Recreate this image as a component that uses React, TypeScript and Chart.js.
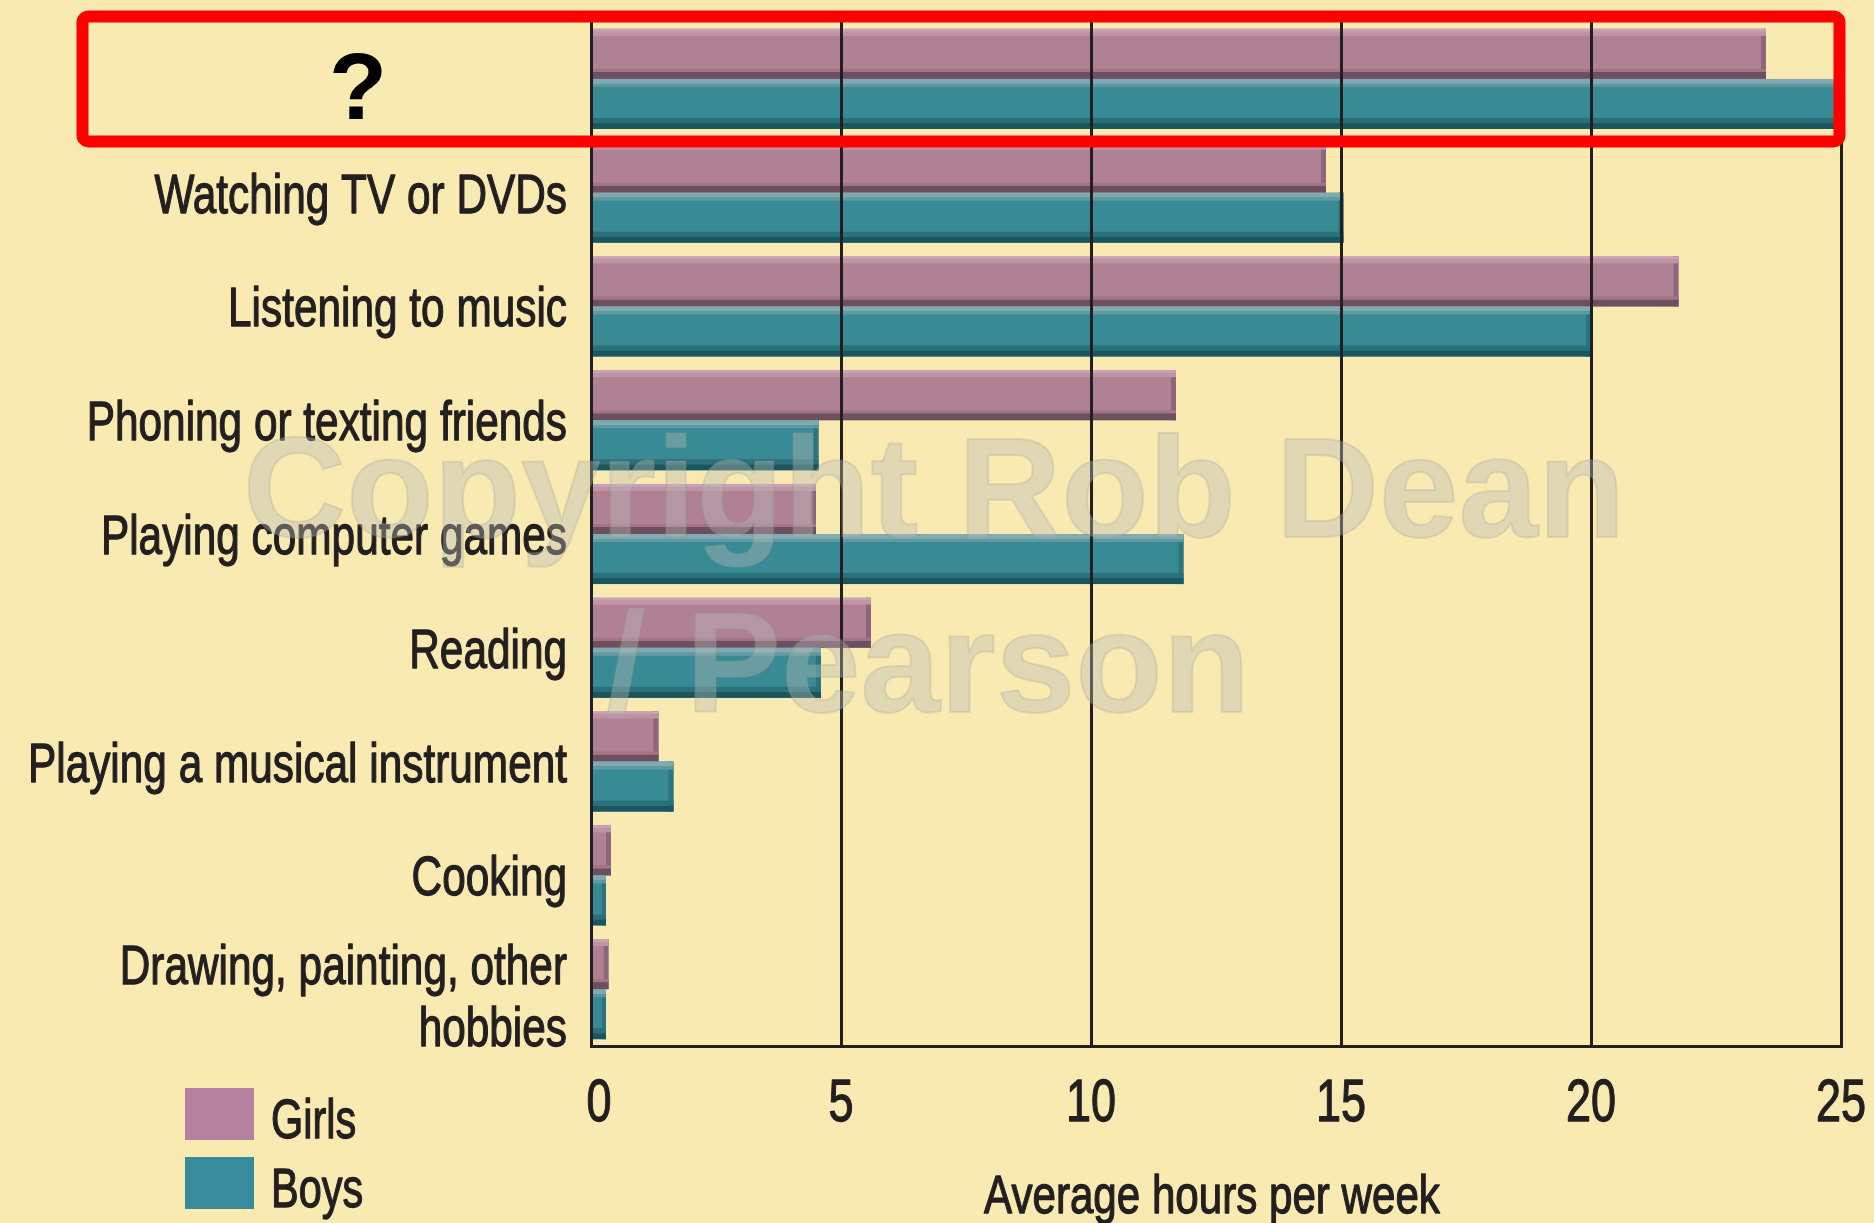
import React, { useEffect, useRef } from 'react';
import { Chart, registerables } from 'chart.js';

Chart.register(...registerables);

// ---- data ----
const categories: (string | string[])[] = [
  '?',
  'Watching TV or DVDs',
  'Listening to music',
  'Phoning or texting friends',
  'Playing computer games',
  'Reading',
  'Playing a musical instrument',
  'Cooking',
  ['Drawing, painting, other', 'hobbies'],
];
const girlsHours = [23.5, 14.7, 21.75, 11.7, 4.5, 5.6, 1.35, 0.4, 0.35];
const boysHours = [25, 15.05, 20, 4.55, 11.85, 4.6, 1.65, 0.3, 0.3];
const seriesNames = ['Girls', 'Boys'];
const xTickValues = [0, 5, 10, 15, 20, 25];
const xAxisTitle = 'Average hours per week';
const watermarkLines = ['Copyright Rob Dean', '/ Pearson'];

// ---- styles ----
const BG = '#f9eab1';
const INK = '#231f20';
const SANS = '"Liberation Sans", Arial, sans-serif';
const seriesColors = ['#b08093', '#388a94'];
const legendColors = ['#b4819e', '#388b9b'];
const shading = [
  { top: [['#c9a3b3', 3], ['#bf94a6', 4]], bottom: [['#a27488', 3], ['#6d4f60', 7]], right: '#8d667a' },
  { top: [['#80aab0', 5], ['#5f9aa2', 3]], bottom: [['#2a7078', 5], ['#195660', 6]], right: '#2a757e' },
];

// condensed text: Liberation Sans squeezed horizontally, slightly emboldened
function narrowText(ctx: CanvasRenderingContext2D, text: string, x: number, y: number, size: number, sx: number, align: CanvasTextAlign) {
  ctx.save();
  ctx.font = `${size}px ${SANS}`;
  ctx.textBaseline = 'alphabetic';
  ctx.textAlign = align;
  ctx.translate(x, y);
  ctx.scale(sx, 1);
  ctx.fillStyle = INK;
  ctx.strokeStyle = INK;
  ctx.lineWidth = 1.3;
  ctx.lineJoin = 'round';
  ctx.fillText(text, 0, 0);
  ctx.strokeText(text, 0, 0);
  ctx.restore();
}

const barShadePlugin = {
  id: 'barShade',
  afterDatasetsDraw(chart: any) {
    const ctx = chart.ctx;
    const area = chart.chartArea;
    ctx.save();
    ctx.beginPath();
    ctx.rect(area.left, area.top, area.right - area.left, area.bottom - area.top);
    ctx.clip();
    chart.data.datasets.forEach((_: any, di: number) => {
      const meta = chart.getDatasetMeta(di);
      const s = shading[di];
      meta.data.forEach((el: any) => {
        const p = el.getProps(['x', 'y', 'base', 'height'], true);
        const left = Math.min(p.x, p.base);
        const right = Math.max(p.x, p.base);
        const top = p.y - p.height / 2;
        const bottom = p.y + p.height / 2;
        const w = right - left;
        const rw = Math.min(5, w * 0.3);
        ctx.fillStyle = s.right;
        ctx.fillRect(right - rw, top, rw, bottom - top);
        let y = top;
        (s.top as any[]).forEach(([c, h]) => {
          ctx.fillStyle = c;
          ctx.fillRect(left, y, w, h);
          y += h;
        });
        let yb = bottom;
        (s.bottom as any[]).slice().reverse().forEach(([c, h]) => {
          yb -= h;
          ctx.fillStyle = c;
          ctx.fillRect(left, yb, w, h);
        });
      });
    });
    ctx.restore();
  },
};

const decorPlugin = {
  id: 'decor',
  beforeDraw(chart: any) {
    const ctx = chart.ctx;
    ctx.save();
    ctx.fillStyle = BG;
    ctx.fillRect(0, 0, chart.width, chart.height);
    ctx.restore();
  },
  afterDraw(chart: any) {
    const ctx: CanvasRenderingContext2D = chart.ctx;
    const yScale = chart.scales.y;
    const xScale = chart.scales.x;
    ctx.save();

    // category labels
    categories.forEach((cat, i) => {
      if (i === 0) return;
      const lines = Array.isArray(cat) ? cat : [cat];
      const cy = yScale.getPixelForValue(i);
      const lh = 62;
      lines.forEach((ln, j) => {
        const by = cy + (j - (lines.length - 1) / 2) * lh + 20 + (lines.length > 1 ? 6 : 0);
        narrowText(ctx, ln, 567, by, 55, 0.77, 'right');
      });
    });

    // x tick labels
    xTickValues.forEach((v) => {
      narrowText(ctx, String(v), xScale.getPixelForValue(v) + (v === 0 ? 8 : 0), 1121, 60, 0.75, 'center');
    });
    // x title
    narrowText(ctx, xAxisTitle, (xScale.left + xScale.right) / 2 - 4, 1213, 54, 0.78, 'center');

    // red highlight box around the first category
    const c0 = yScale.getPixelForValue(0);
    ctx.strokeStyle = '#ff0000';
    ctx.lineWidth = 12;
    ctx.lineJoin = 'round';
    ctx.beginPath();
    (ctx as any).roundRect(82.5, c0 - 62.5, xScale.right - 1.5 - 82.5, 125, 6);
    ctx.stroke();
    // "?" label
    ctx.fillStyle = '#000';
    ctx.font = `bold 95px ${SANS}`;
    ctx.textAlign = 'center';
    ctx.textBaseline = 'alphabetic';
    ctx.fillText(String(categories[0]), 358, c0 + 40);

    // legend
    seriesNames.forEach((name, i) => {
      const top = 1088 + i * 69;
      ctx.fillStyle = legendColors[i];
      ctx.fillRect(185, top, 69, 52);
      narrowText(ctx, name, 271, top + 50, 56, 0.74, 'left');
    });

    // watermark
    ctx.font = `bold 143px ${SANS}`;
    ctx.fillStyle = 'rgba(185,188,186,0.39)';
    ctx.strokeStyle = 'rgba(150,150,140,0.22)';
    ctx.lineWidth = 2;
    ctx.textAlign = 'left';
    ctx.fillText(watermarkLines[0], 243, 537);
    ctx.strokeText(watermarkLines[0], 243, 537);
    ctx.textAlign = 'right';
    ctx.fillText(watermarkLines[1], 1250, 712);
    ctx.strokeText(watermarkLines[1], 1250, 712);
    ctx.restore();
  },
};

export default function App() {
  const ref = useRef<HTMLCanvasElement | null>(null);
  useEffect(() => {
    if (!ref.current) return;
    const chart = new Chart(ref.current, {
      type: 'bar',
      data: {
        labels: categories as any,
        datasets: [
          { label: seriesNames[0], data: girlsHours, backgroundColor: seriesColors[0], borderWidth: 0 },
          { label: seriesNames[1], data: boysHours, backgroundColor: seriesColors[1], borderWidth: 0 },
        ],
      },
      options: {
        indexAxis: 'y',
        responsive: true,
        maintainAspectRatio: false,
        animation: false,
        layout: { padding: { top: 22, right: 33, left: 0, bottom: 0 } },
        datasets: { bar: { categoryPercentage: 0.88, barPercentage: 1 } },
        plugins: { legend: { display: false }, tooltip: { enabled: false } },
        scales: {
          x: {
            type: 'linear',
            position: 'bottom',
            min: 0,
            max: 25,
            afterBuildTicks: (s: any) => {
              s.ticks = xTickValues.map((v) => ({ value: v }));
            },
            afterFit: (s: any) => {
              s.height = 177;
            },
            ticks: { display: false },
            grid: { color: INK, lineWidth: 3, drawTicks: false, tickLength: 0, z: 1 },
            border: { display: true, color: INK, width: 3, z: 1 },
            title: { display: false, text: xAxisTitle },
          },
          y: {
            type: 'category',
            afterFit: (s: any) => {
              s.width = 591;
            },
            ticks: { display: false },
            grid: { display: false, drawTicks: false },
            border: { display: true, color: INK, width: 3, z: 1 },
          },
        },
      } as any,
      plugins: [barShadePlugin, decorPlugin],
    });
    return () => chart.destroy();
  }, []);
  return (
    <div style={{ position: 'fixed', left: 0, top: 0, width: 1874, height: 1223, background: BG }}>
      <canvas ref={ref} />
    </div>
  );
}
